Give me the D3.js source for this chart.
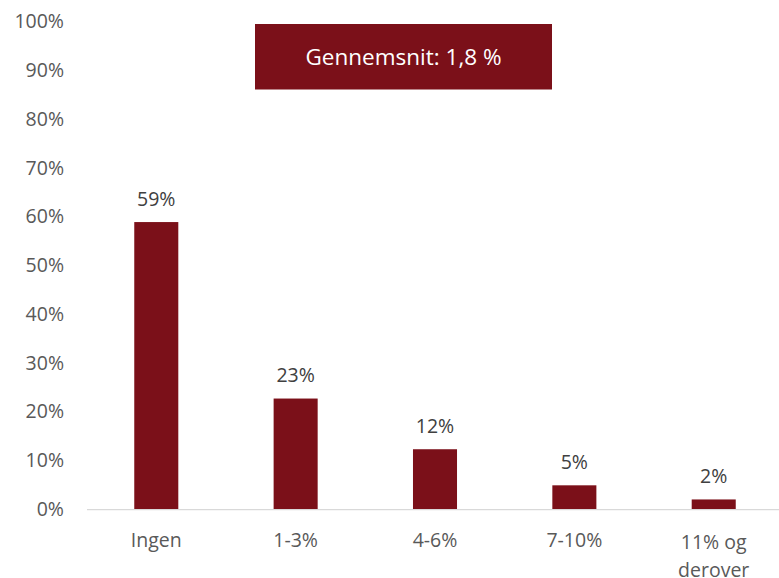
<!DOCTYPE html>
<html>
<head>
<meta charset="utf-8">
<script src="https://cdn.jsdelivr.net/npm/d3@7/dist/d3.min.js"></script>
<style>
  body { margin: 0; background: #fff; }
  text { font-family: "Open Sans", sans-serif; }
</style>
</head>
<body>
<script>
/* Data */
var categories = ["Ingen", "1-3%", "4-6%", "7-10%", "11% og derover"],
	shares = [0.589, 0.227, 0.123, 0.049, 0.020],
	yTicks = [0, 0.1, 0.2, 0.3, 0.4, 0.5, 0.6, 0.7, 0.8, 0.9, 1],
	averageText = "Gennemsnit: 1,8 %";

/* Display setup */
var width = 779, height = 578,
	barColor = "#7b1019",
	svg = d3.select("body").append("svg")
		.attr("width", width)
		.attr("height", height);

// plot area runs a little past the right edge of the picture
var x = d3.scaleBand()
	.domain(categories)
	.range([86.6, 783.4])
	.paddingInner(0.684)
	.paddingOuter(0.342);

var y = d3.scaleLinear()
	.domain([0, 1])
	.range([509.2, 21.7]);

var pct = d3.format(".0%");

// y axis labels (no line, no ticks)
var yAxis = svg.append("g")
	.attr("transform", "translate(64,0)")
	.call(d3.axisLeft(y).tickValues(yTicks).tickFormat(pct).tickSize(0).tickPadding(0));
yAxis.select(".domain").remove();
yAxis.selectAll("text")
	.style("font-family", "'Open Sans', sans-serif")
	.style("font-size", "19.5px")
	.style("fill", "#595959");

// bars
svg.selectAll("rect.bar")
	.data(shares)
	.enter().append("rect")
		.attr("class", "bar")
		.attr("x", function(d, i) { return x(categories[i]); })
		.attr("y", function(d) { return y(d); })
		.attr("width", x.bandwidth())
		.attr("height", function(d) { return y(0) - y(d); })
		.style("fill", barColor);

// x axis line
svg.append("line")
	.attr("x1", 87).attr("x2", width)
	.attr("y1", y(0) + 0.5).attr("y2", y(0) + 0.5)
	.style("stroke", "#d9d9d9")
	.style("stroke-width", 1.3);

// data labels
svg.selectAll("text.value")
	.data(shares)
	.enter().append("text")
		.attr("class", "value")
		.attr("x", function(d, i) { return x(categories[i]) + x.bandwidth() / 2; })
		.attr("y", function(d) { return y(d) - 16.5; })
		.attr("text-anchor", "middle")
		.style("font-size", "19.5px")
		.style("fill", "#404040")
		.text(function(d) { return pct(d); });

// category labels, wrapped after "11% og"
var catLabel = svg.selectAll("text.cat")
	.data(categories)
	.enter().append("text")
		.attr("class", "cat")
		.attr("text-anchor", "middle")
		.style("font-size", "19.5px")
		.style("fill", "#595959");
catLabel.selectAll("tspan")
	.data(function(d) { return d == "11% og derover" ? ["11% og", "derover"] : [d]; })
	.enter().append("tspan")
		.attr("x", function() { return x(d3.select(this.parentNode).datum()) + x.bandwidth() / 2; })
		.attr("y", function(d, i, nodes) { return (nodes.length > 1 ? 548.5 : 547) + i * 28.5; })
		.text(function(d) { return d; });

// average box
var box = svg.append("g");
box.append("rect")
	.attr("x", 255).attr("y", 24)
	.attr("width", 297).attr("height", 65.5)
	.style("fill", barColor);
box.append("text")
	.attr("x", 255 + 297 / 2)
	.attr("y", 24 + 65.5 / 2)
	.attr("dy", "0.35em")
	.attr("text-anchor", "middle")
	.style("font-size", "22.5px")
	.style("fill", "#ffffff")
	.text(averageText);
</script>
</body>
</html>
